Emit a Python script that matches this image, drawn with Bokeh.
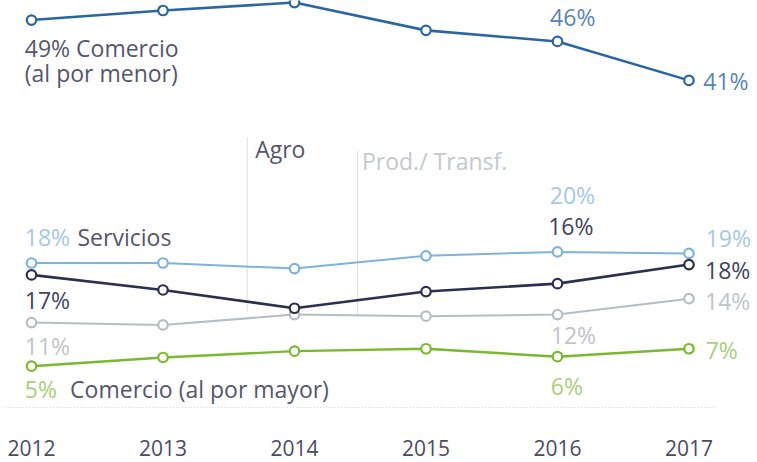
from bokeh.plotting import figure
from bokeh.models import ColumnDataSource, FixedTicker
from bokeh.core.properties import value
from bokeh.embed import file_html
from bokeh.resources import INLINE

# ---------------- data ----------------
years = [2012, 2013, 2014, 2015, 2016, 2017]
year_labels = ["2012", "2013", "2014", "2015", "2016", "2017"]
comercio_menor = [48.8, 50.0, 51.0, 47.5, 46.1, 41.2]
servicios = [18.2, 18.2, 17.5, 19.1, 19.6, 19.4]
agro = [16.7, 14.8, 12.5, 14.6, 15.6, 18.0]
prod_transf = [10.7, 10.4, 11.7, 11.5, 11.7, 13.7]
comercio_mayor = [5.2, 6.3, 7.1, 7.4, 6.4, 7.4]

name_menor_1 = "Comercio"
name_menor_2 = "(al por menor)"
name_servicios = "Servicios"
name_agro = "Agro"
name_prod = "Prod./ Transf."
name_mayor = "Comercio (al por mayor)"

# ---------------- styling ----------------
FONT = "Open Sans"
FS = "23px"
DARK = "#55566c"
C_MENOR, T_MENOR = "#2a66a3", "#5a84b5"
C_SERV, T_SERV = "#7eb3dc", "#a5c8e6"
C_AGRO, T_AGRO = "#2c2f4f", "#414360"
C_PROD, T_PROD = "#b7bec3", "#bfc4c9"
C_MAY, T_MAY = "#7ab92f", "#a9cf7a"
SH = -9.5  # baseline correction

X0, X1 = 2011.7643, 2017.5210
Y0, Y1 = -0.378, 51.26

p = figure(width=757, height=462, x_range=(X0, X1), y_range=(Y0, Y1),
           output_backend="svg", toolbar_location=None, y_axis_location=None,
           min_border_left=0, min_border_right=0, min_border_top=0,
           min_border_bottom=52, outline_line_color=None,
           background_fill_color="white", border_fill_color="white")
p.grid.visible = False
p.xaxis.ticker = FixedTicker(ticks=years)
p.xaxis.major_label_overrides = {y: s for y, s in zip(years, year_labels)}
p.xaxis.axis_line_color = None
p.xaxis.major_tick_line_color = None
p.xaxis.minor_tick_line_color = None
p.xaxis.major_tick_out = 0
p.xaxis.major_tick_in = 0
p.xaxis.major_label_standoff = 29
p.xaxis.major_label_text_line_height = 0.7
p.xaxis.major_label_text_font = FONT
p.xaxis.major_label_text_font_size = "21px"
p.xaxis.major_label_text_color = "#4a4b68"

# dotted baseline
p.segment(x0=[years[0] - 0.2], x1=[years[-1] + 0.2], y0=[0], y1=[0],
          line_color="#d5d8dd", line_width=1.2, line_dash="1 2")

# annotation guide lines
AGRO_X, PROD_X = 2013.640, 2014.479
p.segment(x0=[AGRO_X, PROD_X], x1=[AGRO_X, PROD_X], y0=[34.0, 32.3], y1=[12.1, 11.6],
          line_color="#e0e2e6", line_width=1.2)
p.text(x=[AGRO_X, PROD_X], y=[31.5, 29.85], text=[name_agro, name_prod],
       x_offset=[8, 4.5], y_offset=[-8.5, -9], text_color=[DARK, "#c4c8cc"],
       text_font=value(FONT), text_font_size=FS, text_baseline="alphabetic",
       text_align="left")

# series
series = [
    (prod_transf, C_PROD, 2.0),
    (comercio_mayor, C_MAY, 2.4),
    (servicios, C_SERV, 2.0),
    (agro, C_AGRO, 2.6),
    (comercio_menor, C_MENOR, 2.6),
]
for vals, col, lw in series:
    p.line(years, vals, line_color=col, line_width=lw)
    p.scatter(years, vals, size=9.5, fill_color="white", line_color=col, line_width=2.2)

# value labels
def pct(v):
    return f"{v:.0f}%"

lab = [
    (comercio_menor, 0, pct(comercio_menor[0]) + " " + name_menor_1, -6.7, 37.7, DARK),
    (comercio_menor, 0, name_menor_2, -6.7, 62.5, DARK),
    (comercio_menor, 4, pct(comercio_menor[4]), -7.4, -15, T_MENOR),
    (comercio_menor, 5, pct(comercio_menor[5]), 14.3, 9.7, T_MENOR),
    (servicios, 0, pct(servicios[0]), -6.7, -16, T_SERV),
    (servicios, 0, name_servicios, 46, -16, DARK),
    (servicios, 4, pct(servicios[4]), -7.7, -47.3, T_SERV),
    (servicios, 5, pct(servicios[5]), 16.7, -5.6, T_SERV),
    (agro, 0, pct(agro[0]), -6.7, 35, T_AGRO),
    (agro, 4, pct(agro[4]), -9.3, -48.3, T_AGRO),
    (agro, 5, pct(agro[5]), 16, 15.3, T_AGRO),
    (prod_transf, 0, pct(prod_transf[0]), -6.7, 33.3, T_PROD),
    (prod_transf, 4, pct(prod_transf[4]), -6.7, 29.5, T_PROD),
    (prod_transf, 5, pct(prod_transf[5]), 16, 12.2, T_PROD),
    (comercio_mayor, 0, pct(comercio_mayor[0]), -6.7, 32, T_MAY),
    (comercio_mayor, 0, name_mayor, 38.6, 32, DARK),
    (comercio_mayor, 4, pct(comercio_mayor[4]), -6.7, 38.5, T_MAY),
    (comercio_mayor, 5, pct(comercio_mayor[5]), 16.7, 11.2, T_MAY),
]
src = ColumnDataSource(dict(
    x=[years[i] for s, i, *_ in lab],
    y=[s[i] for s, i, *_ in lab],
    text=[t for _, _, t, *_ in lab],
    dx=[l[3] for l in lab],
    dy=[l[4] + SH for l in lab],
    color=[l[5] for l in lab],
))
p.text(x="x", y="y", text="text", x_offset="dx", y_offset="dy", text_color="color",
       text_font=value(FONT), text_font_size=FS, text_baseline="alphabetic",
       text_align="left", source=src)

open("out.html", "w").write(file_html(p, INLINE))
